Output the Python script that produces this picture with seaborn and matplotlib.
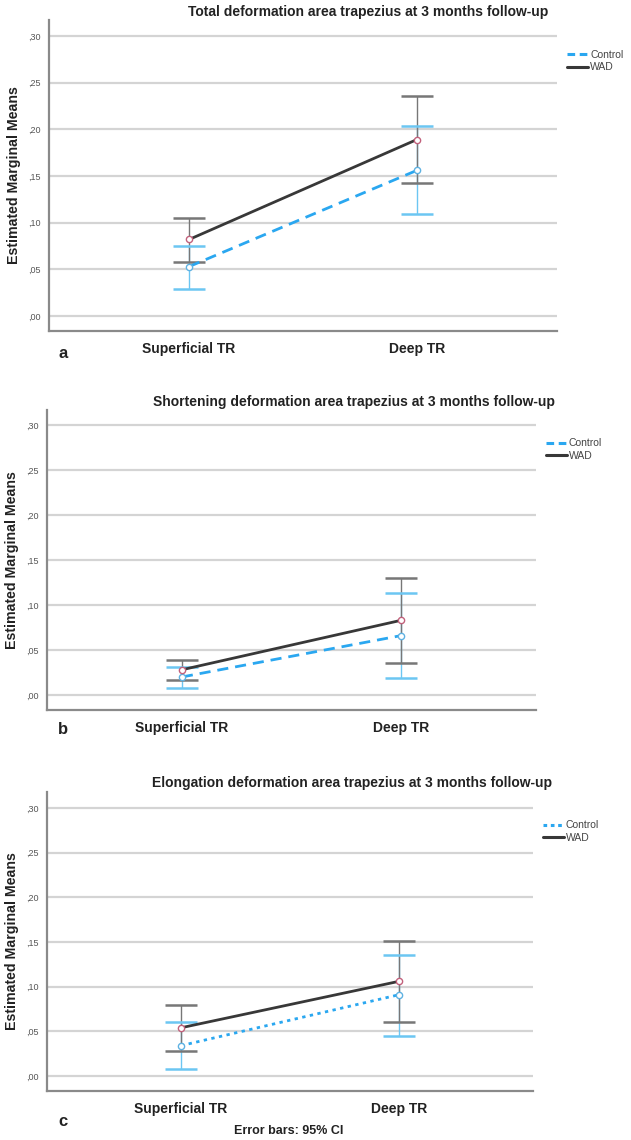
import seaborn as sns
import matplotlib.pyplot as plt
import numpy as np
import pandas as pd

sns.set_style('white')
plt.rcParams['font.family'] = ['Liberation Sans', 'DejaVu Sans']

layers = ['Superficial TR', 'Deep TR']
groups = ['Control', 'WAD']

# estimated marginal means and 95% CI
total_control = [0.053, 0.156]
total_control_lo = [0.029, 0.109]
total_control_hi = [0.075, 0.204]
total_wad = [0.082, 0.189]
total_wad_lo = [0.058, 0.142]
total_wad_hi = [0.105, 0.236]

short_control = [0.020, 0.066]
short_control_lo = [0.008, 0.019]
short_control_hi = [0.031, 0.113]
short_wad = [0.028, 0.083]
short_wad_lo = [0.017, 0.036]
short_wad_hi = [0.039, 0.130]

elong_control = [0.034, 0.091]
elong_control_lo = [0.008, 0.045]
elong_control_hi = [0.060, 0.136]
elong_wad = [0.054, 0.106]
elong_wad_lo = [0.028, 0.061]
elong_wad_hi = [0.080, 0.151]

titles = ['Total deformation area trapezius at 3 months follow-up',
          'Shortening deformation area trapezius at 3 months follow-up',
          'Elongation deformation area trapezius at 3 months follow-up']
letters = ['a', 'b', 'c']
yticks = [0.0, 0.05, 0.10, 0.15, 0.20, 0.25, 0.30]

line_col = {'Control': '#2aa7f0', 'WAD': '#383838'}
err_col = {'Control': '#6cc6f2', 'WAD': '#777777'}
mark_col = {'Control': '#5fb2e2', 'WAD': '#c2617c'}

W, H = 631, 1140
fig = plt.figure(figsize=(W / 100, H / 100), dpi=100)

# panel boxes in pixels: left, right, top, bottom
boxes = [(49, 557, 20, 331), (47, 536, 410, 710), (47, 533, 792, 1091)]
title_pos = [(368, 12), (354, 402), (352, 783)]
ylims = [(-0.016, 0.317), (-0.0167, 0.3167), (-0.0168, 0.318)]
letter_y = [353, 730, 1121]

panels = [
    (total_control, total_control_lo, total_control_hi, total_wad, total_wad_lo, total_wad_hi),
    (short_control, short_control_lo, short_control_hi, short_wad, short_wad_lo, short_wad_hi),
    (elong_control, elong_control_lo, elong_control_hi, elong_wad, elong_wad_lo, elong_wad_hi),
]

for i, (c_m, c_lo, c_hi, w_m, w_lo, w_hi) in enumerate(panels):
    l, r, t, b = boxes[i]
    ax = fig.add_axes([l / W, 1 - b / H, (r - l) / W, (b - t) / H])

    df = pd.DataFrame({
        'layer': layers * 2,
        'group': ['Control'] * 2 + ['WAD'] * 2,
        'mean': c_m + w_m,
        'lo': c_lo + w_lo,
        'hi': c_hi + w_hi,
    })

    x = np.arange(len(layers))
    for g in groups:
        d = df[df['group'] == g]
        m = d['mean'].values
        eb = ax.errorbar(x, m, yerr=[m - d['lo'].values, d['hi'].values - m], fmt='none',
                         ecolor=err_col[g], elinewidth=1.0, capsize=11.5, capthick=1.8,
                         zorder=2)

    sns.pointplot(data=df, x='layer', y='mean', hue='group', order=layers, hue_order=groups,
                  palette=line_col, markers=['', ''], linestyles=['--', '-'],
                  errorbar=None, ax=ax, legend=False)
    for ln in ax.lines:
        ln.set_zorder(3)
        ln.set_linewidth(2.0)

    # control line style: dashed in a and b, dotted in c
    dash = (4, 2.5) if i < 2 else (1.2, 1.6)
    for ln in ax.lines:
        if ln.get_color() == line_col['Control']:
            ln.set_dashes(dash)

    for g in groups:
        d = df[df['group'] == g]
        ax.plot(x, d['mean'].values, 'o', mfc='white', mec=mark_col[g], ms=4.5, mew=1.0,
                zorder=4)

    ax.set_xlim(-0.615, 1.615)
    ax.set_ylim(*ylims[i])
    ax.set_yticks(yticks)
    ax.set_yticklabels([f'{v:.2f}'.replace('0.', ',') for v in yticks],
                       fontsize=6.5, color='#555555')
    ax.set_xticks(x)
    ax.set_xticklabels(layers, fontsize=10, fontweight='bold', color='#222222')
    ax.tick_params(axis='both', length=0)
    ax.tick_params(axis='x', pad=8)
    ax.tick_params(axis='y', pad=6)
    ax.grid(axis='y', color='#d4d4d4', linewidth=1.6)
    ax.set_axisbelow(True)
    for s in ['top', 'right']:
        ax.spines[s].set_visible(False)
    for s in ['left', 'bottom']:
        ax.spines[s].set_color('#8a8a8a')
        ax.spines[s].set_linewidth(1.6)
    ax.set_xlabel('')
    ax.set_ylabel('Estimated Marginal Means', fontsize=10.2, fontweight='bold',
                  color='#222222', labelpad=5)

    handles = [plt.Line2D([], [], color=line_col['Control'], lw=2.2,
                          dashes=(2.5, 1.5) if i < 2 else (1.2, 1.2)),
               plt.Line2D([], [], color=line_col['WAD'], lw=2.2)]
    leg = ax.legend(handles, groups, loc='upper left',
                    bbox_to_anchor=(1.02, 0.905), frameon=False, fontsize=7.5,
                    handlelength=2.0, handletextpad=0.2, labelspacing=0.25,
                    borderaxespad=0, borderpad=0)
    for txt in leg.get_texts():
        txt.set_color('#444444')

    tx, ty = title_pos[i]
    fig.text(tx / W, 1 - ty / H, titles[i], ha='center', va='center',
             fontsize=10, fontweight='bold', color='#222222')
    fig.text(63 / W, 1 - letter_y[i] / H, letters[i], ha='center', va='center',
             fontsize=12, fontweight='bold', color='#222222')

fig.text(289 / W, 1 - 1131 / H, 'Error bars: 95% CI', ha='center', va='center',
         fontsize=9, fontweight='bold', color='#222222')

fig.savefig('out.png', dpi=100)
